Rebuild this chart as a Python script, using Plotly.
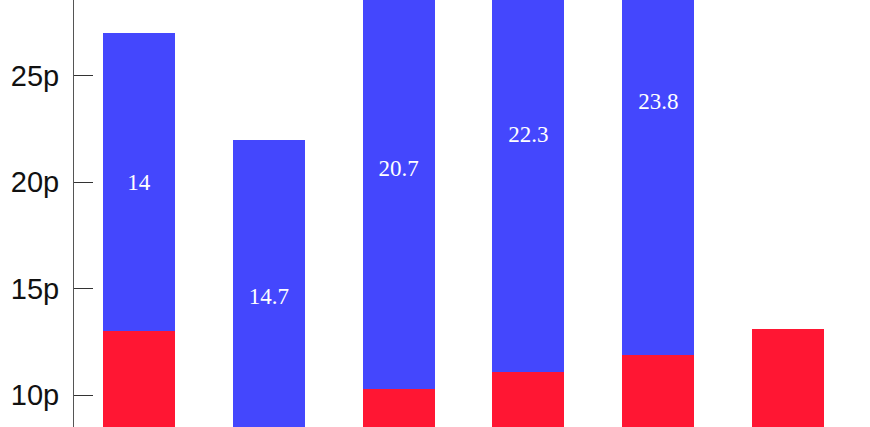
import plotly.graph_objects as go

categories = ["A", "B", "C", "D", "E", "F"]
red_values = [13.0, 7.3, 10.3, 11.1, 11.9, 13.1]
blue_values = [14.0, 14.7, 20.7, 22.3, 23.8, None]
blue_labels = ["14", "14.7", "20.7", "22.3", "23.8", ""]
y_tick_vals = [10, 15, 20, 25]
y_tick_text = ["10p", "15p", "20p", "25p"]

fig = go.Figure()
fig.add_trace(go.Bar(
    x=categories, y=red_values, marker=dict(color="#ff1633", line=dict(width=0)),
    showlegend=False, hoverinfo="skip",
))
fig.add_trace(go.Bar(
    x=categories, y=blue_values, marker=dict(color="#4447fd", line=dict(width=0)),
    text=blue_labels, textposition="inside", insidetextanchor="middle",
    textfont=dict(family="Liberation Serif", size=23, color="white"),
    showlegend=False, hoverinfo="skip", cliponaxis=True,
))

fig.update_layout(
    width=870, height=427,
    margin=dict(l=74, r=17, t=0, b=0, autoexpand=False),
    barmode="stack", bargap=0.445,
    plot_bgcolor="white", paper_bgcolor="white",
)
fig.update_xaxes(showticklabels=False, showgrid=False, zeroline=False,
                 showline=False, ticks="", range=[-0.5, 5.5])
fig.update_yaxes(range=[8.50, 28.57], tickvals=y_tick_vals, ticktext=y_tick_text,
                 showgrid=False, zeroline=False, showline=True, linecolor="#555",
                 linewidth=1, ticks="inside", ticklen=19, tickcolor="#333",
                 tickfont=dict(family="Liberation Sans", size=29, color="#111"),
                 ticklabelstandoff=8)

fig.write_html("out.html", config={"displayModeBar": False},
               post_script="document.body.style.margin='0';document.body.style.overflow='hidden';")
